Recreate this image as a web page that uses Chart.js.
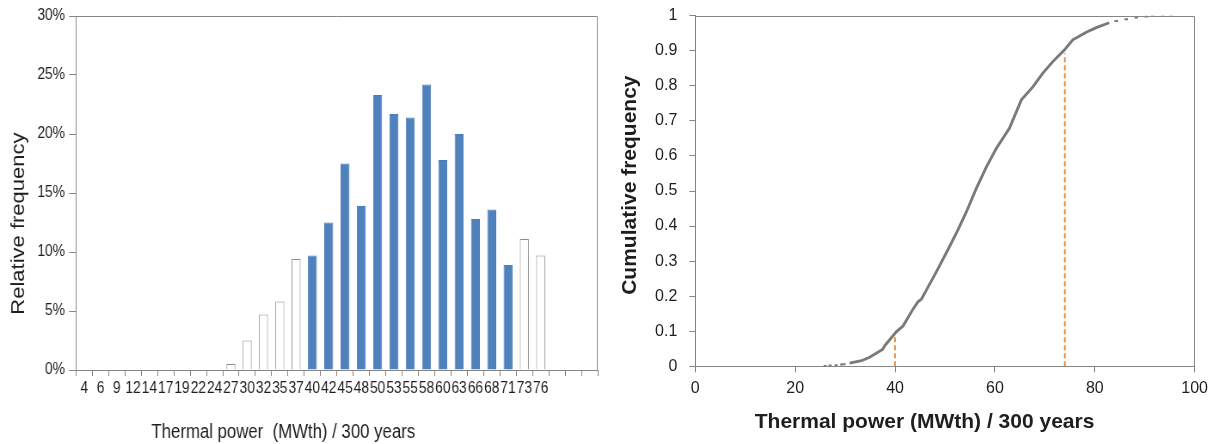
<!DOCTYPE html>
<html>
<head>
<meta charset="utf-8">
<script src="https://cdn.jsdelivr.net/npm/chart.js@4.4.1/dist/chart.umd.min.js"></script>
<style>
  html, body { margin: 0; padding: 0; background: #fff; overflow: hidden; }
  #left { position: absolute; left: 0; top: 0; width: 709px; height: 444px; transform: scaleX(0.86); transform-origin: 0 0; }
  #right { position: absolute; left: 610px; top: 0; width: 605px; height: 444px; }
</style>
</head>
<body>
<div id="left"><canvas id="histChart"></canvas></div>
<div id="right"><canvas id="cdfChart"></canvas></div>
<script>
// histogram (left)
const binLabels = ['4', '6', '9', '12', '14', '17', '19', '22', '24', '27', '30', '32', '35', '37', '40',
  '42', '45', '48', '50', '53', '55', '58', '60', '63', '66', '68', '71', '73', '76', '', '', ''];
const relFreq = [0, 0, 0, 0, 0, 0, 0, 0, 0, 0.5, 2.5, 4.7, 5.8, 9.4, 9.7,
  12.5, 17.5, 13.9, 23.3, 21.7, 21.4, 24.2, 17.8, 20.0, 12.8, 13.6, 8.9, 11.1, 9.7, null, null, null];
const coreRange = [40, 71];

// cumulative curve (right)
const cdfPower = [30.9, 33.3, 34.9, 37.5, 38.0, 40.3, 41.6, 43.6, 44.6, 45.3, 46.3, 48.3, 50.9, 52.6,
  54.3, 56.3, 58.3, 60.3, 62.9, 65.3, 67.6, 69.6, 71.6, 73.9, 75.6, 78.3, 80.3, 82.9];
const cdfFreq = [0.009, 0.016, 0.026, 0.048, 0.060, 0.099, 0.115, 0.163, 0.184, 0.192, 0.218, 0.270, 0.341, 0.389,
  0.441, 0.508, 0.569, 0.622, 0.679, 0.760, 0.797, 0.836, 0.869, 0.902, 0.931, 0.953, 0.966, 0.980];
const lowTailPower = [26.0, 27.0, 28.2, 29.3, 29.8];
const lowTailFreq = [0.001, 0.002, 0.003, 0.005, 0.006];
const highTailPower = [84.3, 86.3, 88.3, 90.3, 91.6, 93.6, 95.3];
const highTailFreq = [0.985, 0.990, 0.995, 0.998, 0.999, 1.0, 1.0];
const boundPower = [40, 74];
const boundFreq = [0.089, 0.893];

Chart.defaults.font.family = '"Liberation Sans", Arial, sans-serif';
Chart.defaults.color = '#1e1e1e';
Chart.defaults.animation = false;

const axisGrey = '#868686';
const blue = '#4f81bd';

// top + right border of the plot area
const frameBox = {
  id: 'frameBox',
  afterDraw(chart) {
    const { ctx, chartArea: a } = chart;
    ctx.save();
    ctx.strokeStyle = axisGrey;
    ctx.lineWidth = 1;
    ctx.beginPath();
    ctx.moveTo(a.left, Math.round(a.top) + 0.5);
    ctx.lineTo(Math.round(a.right) - 0.5, Math.round(a.top) + 0.5);
    ctx.lineTo(Math.round(a.right) - 0.5, a.bottom);
    ctx.stroke();
    ctx.restore();
  }
};

// titles in the original sit a little off the axis centre; pad with spaces
const pad = (s, n) => s + ' '.repeat(n);
const inCore = l => l !== '' && +l >= coreRange[0] && +l <= coreRange[1];

new Chart(document.getElementById('histChart'), {
  type: 'bar',
  data: {
    labels: binLabels,
    datasets: [{
      data: relFreq,
      backgroundColor: binLabels.map(l => inCore(l) ? blue : '#ffffff'),
      borderColor: binLabels.map(l => inCore(l) ? '#4a7dba' : '#8a8a8a'),
      borderWidth: 1,
      barPercentage: 0.55,
      categoryPercentage: 1
    }]
  },
  options: {
    responsive: true,
    maintainAspectRatio: false,
    layout: { padding: { top: 16, right: 14, bottom: 0, left: 0 } },
    plugins: { legend: { display: false }, tooltip: { enabled: false } },
    scales: {
      x: {
        grid: { drawOnChartArea: false, offset: true, tickLength: 6, color: axisGrey },
        border: { color: axisGrey },
        ticks: { autoSkip: false, maxRotation: 0, padding: 3, font: { size: 16 } },
        title: { display: true, text: pad('Thermal power  (MWth) / 300 years', 23), font: { size: 19.5 }, padding: { top: 0, bottom: 0 } },
        afterFit(scale) { scale.height = 74; }
      },
      y: {
        min: 0, max: 30,
        grid: { drawOnChartArea: false, tickLength: 8, color: axisGrey },
        border: { color: axisGrey },
        ticks: { stepSize: 5, padding: 5, font: { size: 16 }, callback: v => v + '%' },
        title: { display: true, text: pad('Relative frequency', 10), font: { size: 22 }, padding: { top: 9, bottom: 0 } },
        afterFit(scale) { scale.width = 88.4; }
      }
    }
  },
  plugins: [frameBox]
});

const toPts = (xs, ys) => xs.map((x, i) => ({ x, y: ys[i] }));
const curveGrey = '#7a7a7a';
const orange = '#f79646';

new Chart(document.getElementById('cdfChart'), {
  type: 'scatter',
  data: {
    datasets: [
      {
        data: [{ x: boundPower[0], y: 0 }, { x: boundPower[0], y: boundFreq[0] }],
        showLine: true, pointRadius: 0, borderColor: orange, borderWidth: 2, borderDash: [5, 3]
      },
      {
        data: [{ x: boundPower[1], y: 0 }, { x: boundPower[1], y: boundFreq[1] }],
        showLine: true, pointRadius: 0, borderColor: orange, borderWidth: 2, borderDash: [5, 3]
      },
      {
        data: toPts(cdfPower, cdfFreq),
        showLine: true, pointRadius: 0, borderColor: curveGrey, borderWidth: 2.8
      },
      {
        data: toPts(lowTailPower, lowTailFreq),
        showLine: false, pointStyle: 'line', pointRadius: 1.5, pointBorderWidth: 2, borderColor: curveGrey
      },
      {
        data: toPts(highTailPower, highTailFreq),
        showLine: false, pointStyle: 'line', pointRadius: 1.8, pointBorderWidth: 2, borderColor: curveGrey
      }
    ]
  },
  options: {
    responsive: true,
    maintainAspectRatio: false,
    layout: { padding: { top: 15.7, right: 19.5, bottom: 0, left: 0 } },
    plugins: { legend: { display: false }, tooltip: { enabled: false } },
    scales: {
      x: {
        type: 'linear', min: 0, max: 100,
        grid: { drawOnChartArea: false, tickLength: 6, color: axisGrey },
        border: { color: axisGrey },
        ticks: { stepSize: 20, padding: 7, font: { size: 16 } },
        title: { display: true, text: pad('Thermal power (MWth) / 300 years', 7), font: { size: 21, weight: 'bold' }, padding: { top: 0, bottom: 9 } },
        afterFit(scale) { scale.height = 77.7; }
      },
      y: {
        min: 0, max: 1,
        grid: { drawOnChartArea: false, tickLength: 6, color: axisGrey },
        border: { color: axisGrey },
        // small lineHeight keeps the label padding from pushing the plot top down
        ticks: { stepSize: 0.1, padding: 12, font: { size: 16, lineHeight: 0.3 }, callback: v => String(Number(v.toFixed(1))) },
        title: { display: true, text: ' '.repeat(2) + 'Cumulative frequency', font: { size: 21, weight: 'bold' }, padding: { top: 8, bottom: 0 } },
        afterFit(scale) { scale.width = 85.3; }
      }
    }
  },
  plugins: [frameBox]
});
</script>
</body>
</html>
